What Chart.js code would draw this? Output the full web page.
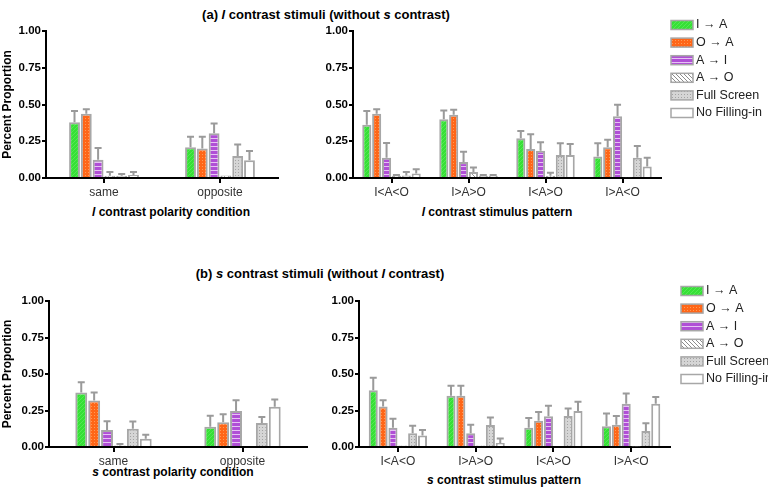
<!DOCTYPE html>
<html>
<head>
<meta charset="utf-8">
<script src="https://cdn.jsdelivr.net/npm/chart.js@4"></script>
<style>
body { margin: 0; width: 768px; height: 488px; position: relative; background: #fff; overflow: hidden;
       font-family: "Liberation Sans", Arial, sans-serif; }
canvas { position: absolute; }
.t { position: absolute; transform: translate(-50%, -50%); font-weight: bold; white-space: nowrap; color: #000; }
</style>
</head>
<body>
<div class="t" style="left:326px; top:14px; font-size:13px">(a) <i>l</i> contrast stimuli (without <i>s</i> contrast)</div>
<div class="t" style="left:320px; top:273px; font-size:13px">(b) <i>s</i> contrast stimuli (without <i>l</i> contrast)</div>
<div class="t" style="left:171px; top:212px; font-size:12px"><i>l</i> contrast polarity condition</div>
<div class="t" style="left:497px; top:212px; font-size:12px"><i>l</i> contrast stimulus pattern</div>
<div class="t" style="left:173px; top:472px; font-size:12px"><i>s</i> contrast polarity condition</div>
<div class="t" style="left:504px; top:480px; font-size:12px"><i>s</i> contrast stimulus pattern</div>

<canvas id="lPol" width="290" height="230" style="left:0; top:0"></canvas>
<canvas id="lPat" width="478" height="230" style="left:290px; top:0"></canvas>
<canvas id="sPol" width="320" height="248" style="left:0; top:240px"></canvas>
<canvas id="sPat" width="448" height="248" style="left:320px; top:240px"></canvas>

<script>
const seriesNames = ['I \u2192 A', 'O \u2192 A', 'A \u2192 I', 'A \u2192 O', 'Full Screen', 'No Filling-in'];
const polarityLabels = ['same', 'opposite'];
const patternLabels = ['I<A<O', 'I>A>O', 'I<A>O', 'I>A<O'];

// rows follow seriesNames, columns follow the category labels
const lPolarityMean = [
    [0.38, 0.21],
    [0.437, 0.20],
    [0.124, 0.305],
    [0.015, 0.017],
    [0.015, 0.15],
    [0.02, 0.12]
];
const lPolarityErr = [
    [0.075, 0.07],
    [0.03, 0.08],
    [0.08, 0.065],
    [0.025, 0.0],
    [0.012, 0.078],
    [0.02, 0.063]
];
const lPatternMean = [
    [0.362, 0.40, 0.27, 0.147],
    [0.437, 0.43, 0.197, 0.21],
    [0.138, 0.108, 0.186, 0.42],
    [0.015, 0.04, 0.015, 0.005],
    [0.017, 0.015, 0.157, 0.137],
    [0.03, 0.015, 0.157, 0.078]
];
const lPatternErr = [
    [0.093, 0.06, 0.05, 0.09],
    [0.03, 0.035, 0.10, 0.05],
    [0.10, 0.07, 0.057, 0.078],
    [0.005, 0.032, 0.02, 0.0],
    [0.023, 0.005, 0.08, 0.08],
    [0.03, 0.005, 0.075, 0.06]
];
const sPolarityMean = [
    [0.373, 0.139],
    [0.318, 0.17],
    [0.116, 0.246],
    [0.011, 0.0],
    [0.125, 0.164],
    [0.057, 0.275]
];
const sPolarityErr = [
    [0.071, 0.075],
    [0.055, 0.055],
    [0.06, 0.074],
    [0.009, 0.0],
    [0.05, 0.041],
    [0.027, 0.05]
];
const sPatternMean = [
    [0.388, 0.351, 0.132, 0.142],
    [0.278, 0.351, 0.18, 0.153],
    [0.132, 0.094, 0.21, 0.297],
    [0.01, 0.01, 0.0, 0.003],
    [0.094, 0.15, 0.212, 0.11],
    [0.078, 0.027, 0.246, 0.297]
];
const sPatternErr = [
    [0.086, 0.069, 0.066, 0.088],
    [0.043, 0.069, 0.06, 0.059],
    [0.062, 0.058, 0.073, 0.07],
    [0.0, 0.0, 0.0, 0.0],
    [0.052, 0.052, 0.052, 0.053],
    [0.038, 0.031, 0.064, 0.045]
];

const FONT = '"Liberation Sans", Arial, sans-serif';
const BORDER = '#a7a7a7';

function makePattern(ctx, size, bg, draw) {
    const c = document.createElement('canvas');
    c.width = c.height = size;
    const g = c.getContext('2d');
    g.fillStyle = bg;
    g.fillRect(0, 0, size, size);
    if (draw) draw(g, size);
    return ctx.createPattern(c, 'repeat');
}

function fills(ctx) {
    return [
        makePattern(ctx, 4, '#36e036', (g, s) => {
            g.strokeStyle = '#5cea5c'; g.lineWidth = 0.8;
            g.beginPath(); g.moveTo(-1, s + 1); g.lineTo(s + 1, -1); g.stroke();
        }),
        makePattern(ctx, 3, '#ff6618', g => { g.fillStyle = '#ff9a55'; g.fillRect(1, 1, 1, 1); }),
        makePattern(ctx, 4, '#b04fd6', (g, s) => { g.fillStyle = '#e6c2f4'; g.fillRect(0, 2, s, 1); }),
        makePattern(ctx, 4, '#ffffff', (g, s) => {
            g.strokeStyle = '#8c8c8c'; g.lineWidth = 1;
            g.beginPath(); g.moveTo(-1, -1); g.lineTo(s + 1, s + 1); g.stroke();
        }),
        makePattern(ctx, 3, '#d5d5d5', g => { g.fillStyle = '#a3a3a3'; g.fillRect(1, 1, 1, 1); }),
        '#ffffff'
    ];
}

// upward error bars, placed with the chart's own scales
const errorBars = {
    id: 'errorBars',
    afterDatasetsDraw(chart) {
        const ctx = chart.ctx;
        const y = chart.scales.y;
        ctx.save();
        ctx.strokeStyle = '#9a9a9a';
        ctx.lineWidth = 2;
        chart.data.datasets.forEach((ds, i) => {
            chart.getDatasetMeta(i).data.forEach((bar, j) => {
                const e = ds.errors[j];
                if (!e) return;
                const top = y.getPixelForValue(ds.data[j] + e);
                ctx.beginPath();
                ctx.moveTo(bar.x, bar.y);
                ctx.lineTo(bar.x, top);
                ctx.moveTo(bar.x - 3.5, top);
                ctx.lineTo(bar.x + 3.5, top);
                ctx.stroke();
            });
        });
        ctx.restore();
    }
};

// legend drawn to the right of the plot
const sideLegend = {
    id: 'sideLegend',
    afterDraw(chart, args, opts) {
        if (!opts.show) return;
        const ctx = chart.ctx;
        ctx.save();
        ctx.font = '12.5px ' + FONT;
        ctx.textBaseline = 'middle';
        chart.data.datasets.forEach((ds, i) => {
            const cy = opts.y + i * 17.6;
            ctx.fillStyle = ds.backgroundColor;
            ctx.fillRect(opts.x, cy - 4.5, 22, 9);
            ctx.strokeStyle = BORDER;
            ctx.lineWidth = 1.5;
            ctx.strokeRect(opts.x, cy - 4.5, 22, 9);
            ctx.fillStyle = '#222';
            ctx.fillText(ds.label, opts.x + 25, cy);
        });
        ctx.restore();
    }
};

function makeChart(id, labels, means, errs, o) {
    const canvas = document.getElementById(id);
    const ctx = canvas.getContext('2d');
    const fill = fills(ctx);
    return new Chart(ctx, {
        type: 'bar',
        data: {
            labels: labels,
            datasets: seriesNames.map((name, i) => ({
                label: name,
                data: means[i],
                errors: errs[i],
                backgroundColor: fill[i],
                borderColor: BORDER,
                borderWidth: 2,
                barPercentage: 0.92,
                categoryPercentage: o.cat
            }))
        },
        options: {
            responsive: false,
            animation: false,
            devicePixelRatio: 1,
            layout: { autoPadding: false, padding: { top: o.top, right: o.right, bottom: 0, left: 0 } },
            plugins: {
                legend: { display: false },
                tooltip: { enabled: false },
                sideLegend: { show: !!o.legend, x: o.legend ? o.legend[0] : 0, y: o.legend ? o.legend[1] : 0 }
            },
            scales: {
                x: {
                    z: 1,
                    afterFit: s => { s.height = o.xh; },
                    grid: { offset: false, drawOnChartArea: false, drawTicks: true, tickLength: 5, lineWidth: 2, color: '#000' },
                    border: { display: true, color: '#000', width: 2 },
                    ticks: { padding: 2, color: '#333', font: { family: FONT, size: 12 } }
                },
                y: {
                    z: 1,
                    min: 0,
                    max: 1,
                    afterFit: s => { s.width = o.yw; },
                    grid: { drawOnChartArea: false, drawTicks: true, tickLength: 4, lineWidth: 2, color: '#000' },
                    border: { display: true, color: '#000', width: 2 },
                    ticks: {
                        stepSize: 0.25, padding: 1, color: '#000',
                        font: { family: FONT, size: 11.5, weight: 'bold' },
                        callback: v => v.toFixed(2)
                    },
                    title: {
                        display: !!o.ytitle, text: 'Percent Proportion', color: '#000',
                        padding: { top: 0, bottom: 0 },
                        font: { family: FONT, size: 12, weight: 'bold' }
                    }
                }
            }
        },
        plugins: [errorBars, sideLegend]
    });
}

makeChart('lPol', polarityLabels, lPolarityMean, lPolarityErr,
    { top: 31, right: 12, xh: 52, yw: 46, cat: 0.61, ytitle: true });
makeChart('lPat', patternLabels, lPatternMean, lPatternErr,
    { top: 31, right: 107, xh: 52, yw: 63, cat: 0.77, legend: [381, 25] });
makeChart('sPol', polarityLabels, sPolarityMean, sPolarityErr,
    { top: 61, right: 13, xh: 41, yw: 49, cat: 0.6, ytitle: true });
makeChart('sPat', patternLabels, sPatternMean, sPatternErr,
    { top: 61, right: 98, xh: 41, yw: 39, cat: 0.76, legend: [361, 51] });
</script>
</body>
</html>
